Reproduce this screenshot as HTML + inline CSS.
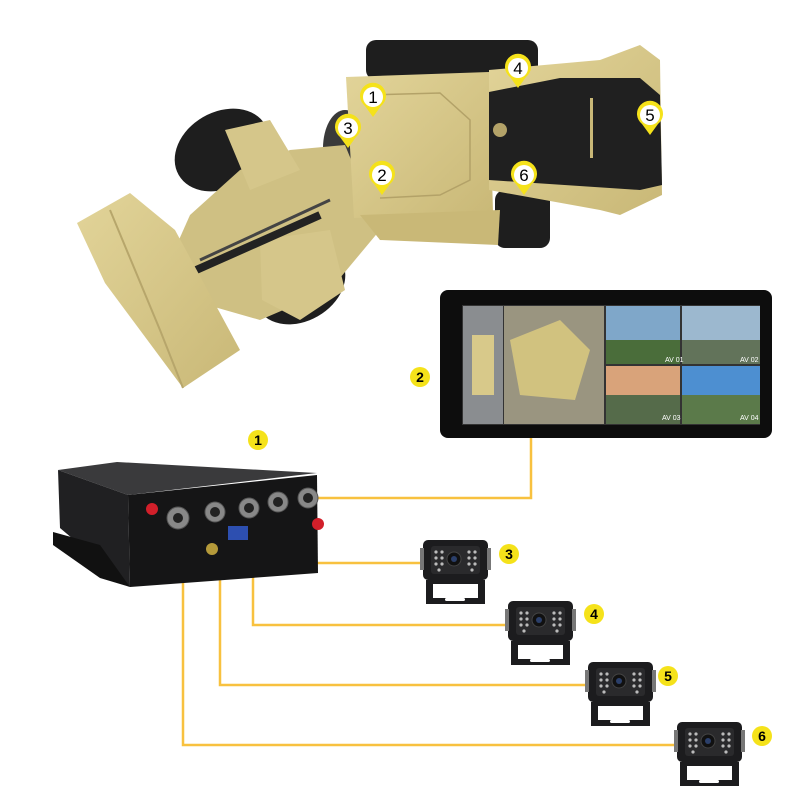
<!DOCTYPE html>
<html><head><meta charset="utf-8"><style>
html,body{margin:0;padding:0;background:#fff}
svg{display:block}
text{font-family:"Liberation Sans",sans-serif}
</style></head><body>
<svg width="800" height="800" viewBox="0 0 800 800" xmlns="http://www.w3.org/2000/svg">
<defs>
<linearGradient id="tan" x1="0" y1="0" x2="1" y2="1"><stop offset="0" stop-color="#e2d499"/><stop offset="1" stop-color="#c9b877"/></linearGradient>
<g id="cam">
 <rect x="0" y="0" width="65" height="40" rx="5" fill="#1c1c1e"/>
 <rect x="-3" y="8" width="4" height="22" fill="#777"/>
 <rect x="64" y="8" width="4" height="22" fill="#777"/>
 <rect x="8" y="6" width="49" height="28" rx="3" fill="#2a2a2c"/>
 <g fill="#bbb">
  <circle cx="13" cy="12" r="1.6"/><circle cx="19" cy="12" r="1.6"/><circle cx="13" cy="18" r="1.6"/><circle cx="19" cy="18" r="1.6"/><circle cx="13" cy="24" r="1.6"/><circle cx="19" cy="24" r="1.6"/><circle cx="16" cy="30" r="1.6"/>
  <circle cx="46" cy="12" r="1.6"/><circle cx="52" cy="12" r="1.6"/><circle cx="46" cy="18" r="1.6"/><circle cx="52" cy="18" r="1.6"/><circle cx="46" cy="24" r="1.6"/><circle cx="52" cy="24" r="1.6"/><circle cx="49" cy="30" r="1.6"/>
 </g>
 <circle cx="31" cy="19" r="7" fill="#111" stroke="#444"/>
 <circle cx="31" cy="19" r="3" fill="#2b3f6a"/>
 <path d="M3 40 H62 V64 H3 Z M10 44 V58 H55 V44 Z" fill="#1c1c1e" fill-rule="evenodd"/>
 <rect x="22" y="58" width="20" height="3" rx="1.5" fill="#fff"/>
</g>
<g id="pin">
 <path d="M0 16 L-8 5 A13 13 0 1 1 8 5 Z" fill="#f5e21a"/>
 <circle cx="0" cy="-4" r="10" fill="#fff"/>
</g>
</defs>

<!-- wheels -->
<ellipse cx="222" cy="150" rx="50" ry="38" transform="rotate(-30 222 150)" fill="#1e1e1e"/>
<ellipse cx="300" cy="285" rx="48" ry="36" transform="rotate(-30 300 285)" fill="#1e1e1e"/>
<rect x="366" y="40" width="172" height="40" rx="10" fill="#1e1e1e"/>
<rect x="495" y="190" width="55" height="58" rx="10" fill="#1e1e1e"/>
<ellipse cx="345" cy="148" rx="22" ry="38" fill="#3a3a3a"/>
<!-- arms -->
<polygon points="190,215 240,170 290,150 345,145 380,230 330,290 260,320 190,300 170,260" fill="#cfc083"/>
<polygon points="225,130 270,120 300,170 250,190" fill="#d5c68a"/>
<polygon points="260,240 330,230 345,290 300,320 262,300" fill="#d5c68a"/>
<line x1="185" y1="275" x2="320" y2="215" stroke="#222" stroke-width="8"/>
<line x1="200" y1="260" x2="330" y2="200" stroke="#444" stroke-width="3"/>
<!-- bucket -->
<polygon points="77,223 130,193 175,230 240,350 183,388 105,283" fill="url(#tan)"/>
<polyline points="110,210 160,330 183,388" fill="none" stroke="#b7a66b" stroke-width="2"/>
<!-- front body -->
<polygon points="346,77 489,72 493,212 354,218" fill="url(#tan)"/>
<polygon points="360,215 500,210 498,245 380,240" fill="#c9b877"/>
<polyline points="370,95 440,93 470,120 470,180 440,195 380,198" fill="none" stroke="#b3a268" stroke-width="1.5"/>
<!-- rear -->
<polygon points="489,70 600,60 640,45 660,60 662,195 620,215 600,210 489,190" fill="url(#tan)"/>
<polygon points="489,92 560,78 640,78 660,95 662,185 640,190 489,180" fill="#202020"/>
<rect x="590" y="98" width="3" height="60" fill="#c9b877"/>
<circle cx="500" cy="130" r="7" fill="#b3a268"/>
<!-- pins -->
<g transform="translate(373,101)"><use href="#pin"/><text x="0" y="2" text-anchor="middle" font-size="17">1</text></g>
<g transform="translate(348,132)"><use href="#pin"/><text x="0" y="2" text-anchor="middle" font-size="17">3</text></g>
<g transform="translate(382,179)"><use href="#pin"/><text x="0" y="2" text-anchor="middle" font-size="17">2</text></g>
<g transform="translate(518,72)"><use href="#pin"/><text x="0" y="2" text-anchor="middle" font-size="17">4</text></g>
<g transform="translate(650,119)"><use href="#pin"/><text x="0" y="2" text-anchor="middle" font-size="17">5</text></g>
<g transform="translate(524,179)"><use href="#pin"/><text x="0" y="2" text-anchor="middle" font-size="17">6</text></g>

<!-- Monitor -->
<rect x="440" y="290" width="332" height="148" rx="8" fill="#0d0d0d"/>
<rect x="462" y="305" width="298" height="120" fill="#333"/>
<rect x="463" y="306" width="40" height="118" fill="#8a8d90"/>
<rect x="472" y="335" width="22" height="60" fill="#d8c98a"/>
<rect x="504" y="306" width="100" height="118" fill="#9a9580"/>
<polygon points="510,340 560,320 590,350 575,400 520,395" fill="#d1c27f"/>
<rect x="606" y="306" width="74" height="58" fill="#7fa7c9"/>
<rect x="606" y="340" width="74" height="24" fill="#4a6d3a"/>
<rect x="682" y="306" width="78" height="58" fill="#9cb8cf"/>
<rect x="682" y="340" width="78" height="24" fill="#62735a"/>
<rect x="606" y="366" width="74" height="58" fill="#d9a37a"/>
<rect x="606" y="395" width="74" height="29" fill="#556b4a"/>
<rect x="682" y="366" width="78" height="58" fill="#4d8fd1"/>
<rect x="682" y="395" width="78" height="29" fill="#5b7a4a"/>
<text x="665" y="362" font-size="7" fill="#fff">AV 01</text>
<text x="740" y="362" font-size="7" fill="#fff">AV 02</text>
<text x="662" y="420" font-size="7" fill="#fff">AV 03</text>
<text x="740" y="420" font-size="7" fill="#fff">AV 04</text>

<!-- Lines -->
<g fill="none" stroke="#f8c13f" stroke-width="2.5">
 <polyline points="318,498 531,498 531,438"/>
 <polyline points="281,503 281,563 423,563"/>
 <polyline points="253,510 253,625 508,625"/>
 <polyline points="220,515 220,685 588,685"/>
 <polyline points="183,520 183,745 677,745"/>
</g>

<!-- DVR -->
<polygon points="58,470 117,462 317,473 128,495" fill="#3a3a3c"/>
<polygon points="58,470 128,495 130,587 60,528" fill="#202022"/>
<polygon points="53,532 100,545 130,587 100,578 53,545" fill="#111"/>
<polygon points="128,495 317,475 318,573 130,587" fill="#151516"/>
<g fill="#888" stroke="#555">
 <circle cx="178" cy="518" r="11"/><circle cx="215" cy="512" r="10"/><circle cx="249" cy="508" r="10"/><circle cx="278" cy="502" r="10"/><circle cx="308" cy="498" r="10"/>
</g>
<g fill="#222">
 <circle cx="178" cy="518" r="5"/><circle cx="215" cy="512" r="5"/><circle cx="249" cy="508" r="5"/><circle cx="278" cy="502" r="5"/><circle cx="308" cy="498" r="5"/>
</g>
<rect x="228" y="526" width="20" height="14" fill="#2d4fb0"/>
<circle cx="152" cy="509" r="6" fill="#d21f2a"/>
<circle cx="318" cy="524" r="6" fill="#d21f2a"/>
<circle cx="212" cy="549" r="6" fill="#b59a3a"/>

<!-- Cameras -->
<use href="#cam" x="423" y="540"/>
<use href="#cam" x="508" y="601"/>
<use href="#cam" x="588" y="662"/>
<use href="#cam" x="677" y="722"/>

<!-- Badges -->
<g font-size="14" font-weight="bold" text-anchor="middle">
 <circle cx="420" cy="377" r="10" fill="#f5e21a"/><text x="420" y="382">2</text>
 <circle cx="258" cy="440" r="10" fill="#f5e21a"/><text x="258" y="445">1</text>
 <circle cx="509" cy="554" r="10" fill="#f5e21a"/><text x="509" y="559">3</text>
 <circle cx="594" cy="614" r="10" fill="#f5e21a"/><text x="594" y="619">4</text>
 <circle cx="668" cy="676" r="10" fill="#f5e21a"/><text x="668" y="681">5</text>
 <circle cx="762" cy="736" r="10" fill="#f5e21a"/><text x="762" y="741">6</text>
</g>
</svg>
</body></html>
